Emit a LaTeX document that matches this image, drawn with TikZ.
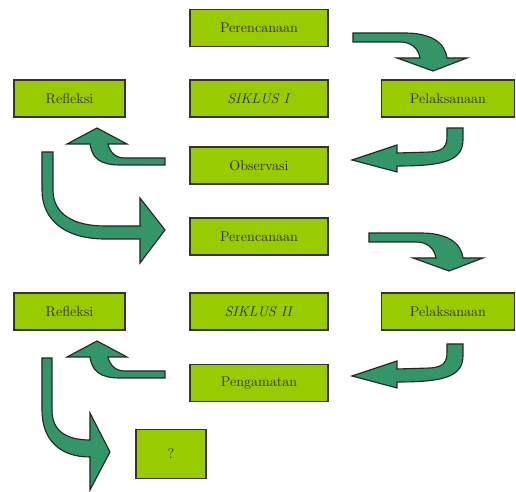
\documentclass[tikz,border=0pt]{standalone}
\usetikzlibrary{positioning}
\definecolor{leaf}{RGB}{153,204,0}
\definecolor{sea}{RGB}{51,150,105}

\tikzset{
  bend arrow/.style={fill=sea,draw=black!85,line width=0.8pt,line join=miter},
  % curved arrow: right, then down
  turnright/.pic={\filldraw[bend arrow] (0,0) -- (52,0) .. controls (77,0) and (92,9) .. (94,25) -- (114,25) -- (80,38) -- (44,25) -- (67,25) .. controls (65,14) and (57,9) .. (47,9) -- (0,9) -- cycle;},
  % curved arrow: down, then left
  turnleft/.pic={\filldraw[bend arrow] (0,0) -- (16,0) -- (16,12) .. controls (16,34) and (-7,38) .. (-50,38) -- (-50,44) -- (-95,32) -- (-50,17) -- (-50,25) -- (-17,24) .. controls (-2,23) and (0,17) .. (0,7) -- cycle;},
  % curved arrow: left, then up
  turnup/.pic={\filldraw[bend arrow] (0,0) -- (0,7) -- (-45,7) .. controls (-65,7) and (-73,0) .. (-75,-14) -- (-98,-14) -- (-68,-30) -- (-38,-14) -- (-57,-14) .. controls (-55,-6) and (-50,0) .. (-40,0) -- cycle;}
}

\begin{document}
\begin{tikzpicture}[x=0.025cm,y=-0.025cm,thick,
    main node/.style={draw=black!80,fill=leaf,line width=1.2pt,minimum height=0.92cm,minimum width=3.45cm,font=\normalsize,text=black!80},
    side node/.style={main node,minimum width=2.78cm}]
    \useasboundingbox (0,0) rectangle (516,492);

    % cycle I
    \node[main node] (plan1) at (259,28) {Perencanaan};
    \node[side node] (refl1) at (69.5,98.5) {Refleksi};
    \node[main node] (sik1) at (259,98.5) {\textit{SIKLUS I}};
    \node[side node,minimum width=3.33cm] (pel1) at (448,98.5) {Pelaksanaan};
    \node[main node] (obs1) at (259,165.5) {Observasi};

    % cycle II
    \node[main node] (plan2) at (259,236.5) {Perencanaan};
    \node[side node] (refl2) at (69.5,311.5) {Refleksi};
    \node[main node] (sik2) at (259,311.5) {\textit{SIKLUS II}};
    \node[side node,minimum width=3.33cm] (pel2) at (448,311.5) {Pelaksanaan};
    \node[main node] (peng2) at (259,383) {Pengamatan};

    \node[main node,minimum width=1.75cm,minimum height=1.22cm] (next) at (171,454) {?};

    % arrows
    \pic at (353,33) {turnright};
    \pic at (447,128) {turnleft};
    \pic at (165,158) {turnup};
    \filldraw[bend arrow] (42,152) -- (53,152) -- (53,190) .. controls (53,215) and (75,226) .. (105,226) -- (140,226) -- (140,198) -- (165,230) -- (140,263) -- (140,239) -- (105,239) .. controls (65,239) and (42,220) .. (42,190) -- cycle;
    \pic at (369,233) {turnright};
    \pic at (447,344) {turnleft};
    \pic at (165,371) {turnup};
    \filldraw[bend arrow] (42,358) -- (52,358) -- (52,410) .. controls (52,430) and (65,440) .. (90,440) -- (90,413) -- (110,452) -- (90,490) -- (90,457) .. controls (60,457) and (42,440) .. (42,410) -- cycle;
\end{tikzpicture}
\end{document}
